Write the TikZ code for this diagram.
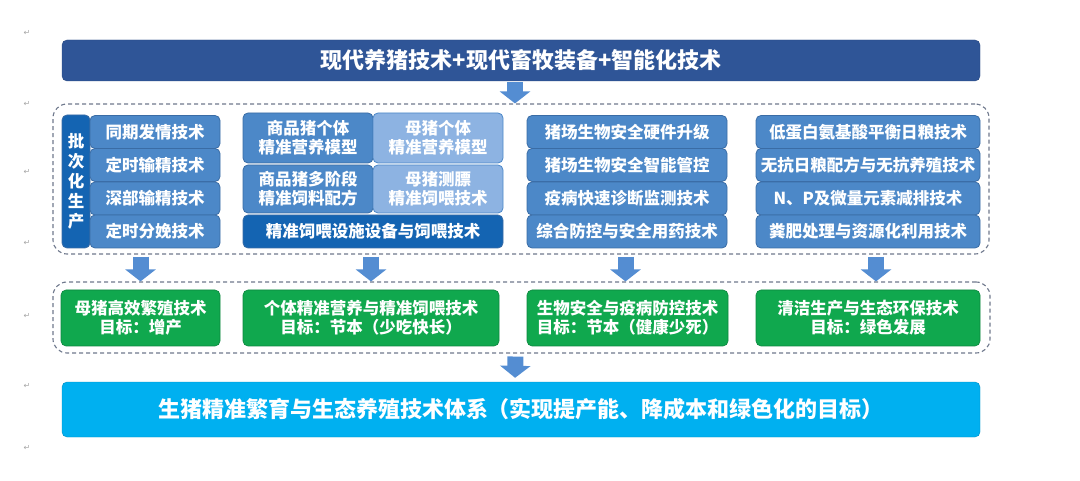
\documentclass[tikz,border=0pt]{standalone}
\usepackage{fontspec}
\setmainfont{Noto Sans CJK SC}
\newfontfamily\markfont{DejaVu Sans}
\usetikzlibrary{arrows.meta,calc}

\definecolor{topblue}{RGB}{47,85,151}
\definecolor{midblue}{RGB}{76,136,200}
\definecolor{edgeblue}{RGB}{58,108,165}
\definecolor{paleblue}{RGB}{141,179,226}
\definecolor{deepblue}{RGB}{20,100,178}
\definecolor{goalgreen}{RGB}{16,168,78}
\definecolor{skyblue}{RGB}{0,176,240}
\definecolor{arrowblue}{RGB}{84,141,210}
\definecolor{dashgray}{RGB}{110,120,140}

\begin{document}
\begin{tikzpicture}[x=1pt,y=1pt,yscale=-1,
    box/.style={rounded corners=5pt, text=white, align=center, inner sep=0pt,
        font=\bfseries\fontsize{16.5}{19}\selectfont},
    cell/.style={box, fill=midblue, draw=edgeblue, line width=0.8pt, minimum height=33},
    palecell/.style={cell, fill=paleblue, draw=midblue},
    deepcell/.style={cell, fill=deepblue, draw=edgeblue},
    goal/.style={box, fill=goalgreen, draw=goalgreen!80!black, line width=0.6pt, minimum height=56},
    group/.style={draw=dashgray, line width=1.1pt, dash pattern=on 4pt off 3pt,
        rounded corners=14pt, inner sep=0pt},
    bigarrow/.style={draw=arrowblue, line width=16pt, -{Triangle[length=12pt,width=30pt]}},
    parmark/.style={text=gray!70, font=\markfont\fontsize{8}{8}\selectfont, inner sep=0pt}
]
    \useasboundingbox (0,0) rectangle (1080,481);

    % paragraph marks
    \foreach \y [count=\i] in {33,104,172,243,316,386,448}
        \node [parmark] (pm\i) at (27,\y) {↵};

    %Shape: top bar
    \node [box, fill=topblue, draw=topblue!85!black, minimum width=918, minimum height=41,
        font=\bfseries\fontsize{22}{25}\selectfont] (top) at (521,60.5)
        {现代养猪技术+现代畜牧装备+智能化技术};

    %Shape: dashed groups
    \node [group, minimum width=936, minimum height=150] (grp1) at (521,179) {};
    \node [group, minimum width=937, minimum height=71] (grp2) at (521.5,317.5) {};

    % column 1
    \node [deepcell, minimum width=28, minimum height=133,
        font=\bfseries\fontsize{16.5}{20}\selectfont] (batch) at (76,181.5) {批\\次\\化\\生\\产};
    \node [cell, minimum width=130] (a1) at (155,132) {同期发情技术};
    \node [cell, minimum width=130] (a2) at (155,165) {定时输精技术};
    \node [cell, minimum width=130] (a3) at (155,198.5) {深部输精技术};
    \node [cell, minimum width=130] (a4) at (155,231.5) {定时分娩技术};

    % column 2
    \node [cell, minimum width=130, minimum height=50] (b1) at (308,138) {商品猪个体\\精准营养模型};
    \node [palecell, minimum width=130, minimum height=50] (b2) at (438,138) {母猪个体\\精准营养模型};
    \node [cell, minimum width=130, minimum height=48] (b3) at (308,189) {商品猪多阶段\\精准饲料配方};
    \node [palecell, minimum width=130, minimum height=48] (b4) at (438,189) {母猪测膘\\精准饲喂技术};
    \node [deepcell, minimum width=260] (b5) at (373,231.5) {精准饲喂设施设备与饲喂技术};

    % column 3
    \node [cell, minimum width=200] (c1) at (627,132) {猪场生物安全硬件升级};
    \node [cell, minimum width=200] (c2) at (627,165) {猪场生物安全智能管控};
    \node [cell, minimum width=200] (c3) at (627,198.5) {疫病快速诊断监测技术};
    \node [cell, minimum width=200] (c4) at (627,231.5) {综合防控与安全用药技术};

    % column 4
    \node [cell, minimum width=224] (d1) at (868,132) {低蛋白氨基酸平衡日粮技术};
    \node [cell, minimum width=224] (d2) at (868,165) {无抗日粮配方与无抗养殖技术};
    \node [cell, minimum width=224] (d3) at (868,198.5) {N、P及微量元素减排技术};
    \node [cell, minimum width=224] (d4) at (868,231.5) {粪肥处理与资源化利用技术};

    % goals
    \node [goal, minimum width=159] (g1) at (140.5,318) {母猪高效繁殖技术\\目标：增产};
    \node [goal, minimum width=256] (g2) at (371,318) {个体精准营养与精准饲喂技术\\目标：节本（少吃快长）};
    \node [goal, minimum width=201] (g3) at (627.5,318) {生物安全与疫病防控技术\\目标：节本（健康少死）};
    \node [goal, minimum width=224] (g4) at (868,318) {清洁生产与生态环保技术\\目标：绿色发展};

    %Shape: bottom bar
    \node [box, fill=skyblue, draw=skyblue!80!black, minimum width=918, minimum height=55,
        font=\bfseries\fontsize{22}{25}\selectfont] (sys) at (521,409.5)
        {生猪精准繁育与生态养殖技术体系（实现提产能、降成本和绿色化的目标）};

    % arrows
    \draw [bigarrow, shorten <=1pt] ($(top.south)+(-6,0)$) -- ($(grp1.north)+(-6,0)$);
    \foreach \g/\dx in {g1/0,g2/0,g3/-2,g4/8}
        \draw [bigarrow, shorten <=2pt] ($(grp1.south -| \g)+(\dx,0)$) -- ($(grp2.north -| \g)+(\dx,0)$);
    \draw [bigarrow, shorten <=3pt, shorten >=4pt] ($(grp2.south)+(-6,0)$) -- ($(sys.north)+(-6,0)$);

\end{tikzpicture}
\end{document}
